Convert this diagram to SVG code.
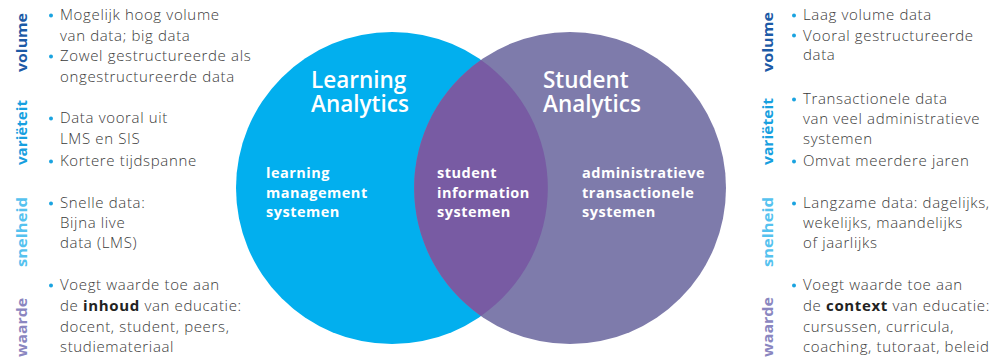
<svg xmlns="http://www.w3.org/2000/svg" width="996" height="358" viewBox="0 0 996 358">
<style>
.body{font-family:"Open Sans","Noto Sans","Liberation Sans",sans-serif;font-weight:300;font-size:15px;letter-spacing:0.65px;fill:#3a3a3a}
.b{font-weight:700;fill:#222}
.dot{fill:#1aa3e0}
.vl{font-family:"Open Sans","Noto Sans","Liberation Sans",sans-serif;font-weight:700;font-size:14.5px;text-anchor:middle}
.title{font-family:"Open Sans","Noto Sans","Liberation Sans",sans-serif;font-weight:600;font-size:22.5px;fill:#fff}
.sub{font-family:"Open Sans","Noto Sans","Liberation Sans",sans-serif;font-weight:700;font-size:14.5px;letter-spacing:0.5px;fill:#fff}
.vol{fill:#1c5aa6}.var{fill:#17a0df}.sne{fill:#55c2ef}.waa{fill:#8a86c0}
</style>
<g id="learning-analytics">
<circle cx="392" cy="188" r="156" fill="#02afee"/>
</g>
<g id="student-analytics">
<circle cx="570" cy="188" r="156" fill="#7e7bab"/>
</g>
<g id="overlap">
<path d="M481,60 A156,156 0 0 0 481,316 A156,156 0 0 0 481,60 Z" fill="#785ba3"/>
</g>
<g id="la-labels">
<text class="title" x="311" y="88">Learning</text>
<text class="title" x="311" y="112">Analytics</text>
<text class="sub" x="266" y="178">learning</text>
<text class="sub" x="266" y="198">management</text>
<text class="sub" x="266" y="217">systemen</text>
</g>
<g id="sis-labels">
<text class="sub" x="437" y="178">student</text>
<text class="sub" x="437" y="198">information</text>
<text class="sub" x="437" y="217">systemen</text>
</g>
<g id="sa-labels">
<text class="title" x="543" y="88">Student</text>
<text class="title" x="543" y="112">Analytics</text>
<text class="sub" x="582" y="178">administratieve</text>
<text class="sub" x="582" y="198">transactionele</text>
<text class="sub" x="582" y="217">systemen</text>
</g>
<g id="connectors"/>
<g id="left-column">
<text class="vl vol" transform="translate(27,42.5) rotate(-90)" textLength="59" lengthAdjust="spacingAndGlyphs">volume</text>
<text class="vl var" transform="translate(27,132.5) rotate(-90)" textLength="65" lengthAdjust="spacingAndGlyphs">variëteit</text>
<text class="vl sne" transform="translate(27,232) rotate(-90)" textLength="70" lengthAdjust="spacingAndGlyphs">snelheid</text>
<text class="vl waa" transform="translate(27,327.5) rotate(-90)" textLength="59" lengthAdjust="spacingAndGlyphs">waarde</text>
<circle class="dot" cx="51" cy="15.5" r="2"/>
<circle class="dot" cx="51" cy="56.5" r="2"/>
<circle class="dot" cx="51" cy="118.5" r="2"/>
<circle class="dot" cx="51" cy="161.5" r="2"/>
<circle class="dot" cx="51" cy="203.5" r="2"/>
<circle class="dot" cx="51" cy="285.5" r="2"/>
<text class="body" x="60" y="20">Mogelijk hoog volume</text>
<text class="body" x="60" y="40.5">van data; big data</text>
<text class="body" x="60" y="61">Zowel gestructureerde als</text>
<text class="body" x="60" y="81.5">ongestructureerde data</text>
<text class="body" x="60" y="123">Data vooral uit</text>
<text class="body" x="60" y="144">LMS en SIS</text>
<text class="body" x="60" y="166">Kortere tijdspanne</text>
<text class="body" x="60" y="208">Snelle data:</text>
<text class="body" x="60" y="228">Bijna live</text>
<text class="body" x="60" y="248">data (LMS)</text>
<text class="body" x="60" y="290">Voegt waarde toe aan</text>
<text class="body" x="60" y="311">de <tspan class="b">inhoud</tspan> van educatie:</text>
<text class="body" x="60" y="332">docent, student, peers,</text>
<text class="body" x="60" y="352">studiemateriaal</text>
</g>
<g id="right-column">
<text class="vl vol" transform="translate(773,42) rotate(-90)" textLength="60" lengthAdjust="spacingAndGlyphs">volume</text>
<text class="vl var" transform="translate(773,131.5) rotate(-90)" textLength="67" lengthAdjust="spacingAndGlyphs">variëteit</text>
<text class="vl sne" transform="translate(773,232) rotate(-90)" textLength="70" lengthAdjust="spacingAndGlyphs">snelheid</text>
<text class="vl waa" transform="translate(773,327) rotate(-90)" textLength="60" lengthAdjust="spacingAndGlyphs">waarde</text>
<circle class="dot" cx="794" cy="15.5" r="2"/>
<circle class="dot" cx="794" cy="35.5" r="2"/>
<circle class="dot" cx="794" cy="99.5" r="2"/>
<circle class="dot" cx="794" cy="161.5" r="2"/>
<circle class="dot" cx="794" cy="203.5" r="2"/>
<circle class="dot" cx="794" cy="285.5" r="2"/>
<text class="body" x="803" y="20">Laag volume data</text>
<text class="body" x="803" y="40.5">Vooral gestructureerde</text>
<text class="body" x="803" y="60">data</text>
<text class="body" x="803" y="104">Transactionele data</text>
<text class="body" x="803" y="124">van veel administratieve</text>
<text class="body" x="803" y="144">systemen</text>
<text class="body" x="803" y="166">Omvat meerdere jaren</text>
<text class="body" x="803" y="208">Langzame data: dagelijks,</text>
<text class="body" x="803" y="228">wekelijks, maandelijks</text>
<text class="body" x="803" y="248">of jaarlijks</text>
<text class="body" x="803" y="290">Voegt waarde toe aan</text>
<text class="body" x="803" y="311">de <tspan class="b">context</tspan> van educatie:</text>
<text class="body" x="803" y="332">cursussen, curricula,</text>
<text class="body" x="803" y="352">coaching, tutoraat, beleid</text>
</g>
</svg>
